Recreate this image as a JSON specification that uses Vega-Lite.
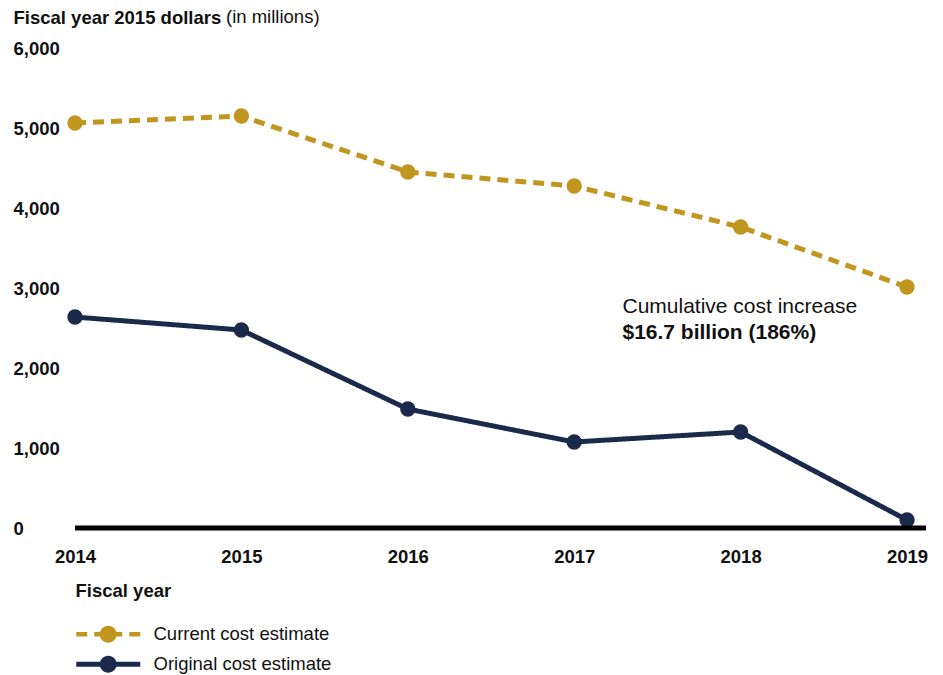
{
  "$schema": "https://vega.github.io/schema/vega-lite/v6.json",
  "width": 851,
  "height": 480,
  "autosize": {"type": "none"},
  "padding": {"left": 75, "top": 48, "right": 17, "bottom": 147},
  "background": "white",
  "config": {
    "view": {"stroke": null},
    "font": "Liberation Sans"
  },
  "title": {
    "text": "(in millions)",
    "anchor": "start",
    "frame": "group",
    "dx": 151,
    "dy": 22,
    "fontSize": 18.5,
    "fontWeight": "normal",
    "color": "#111111",
    "font": "Liberation Sans"
  },
  "datasets": {
    "costs": [
      {"year": 2014, "value": 5062, "series": "Current cost estimate"},
      {"year": 2015, "value": 5150, "series": "Current cost estimate"},
      {"year": 2016, "value": 4450, "series": "Current cost estimate"},
      {"year": 2017, "value": 4275, "series": "Current cost estimate"},
      {"year": 2018, "value": 3762, "series": "Current cost estimate"},
      {"year": 2019, "value": 3012, "series": "Current cost estimate"},
      {"year": 2014, "value": 2637, "series": "Original cost estimate"},
      {"year": 2015, "value": 2475, "series": "Original cost estimate"},
      {"year": 2016, "value": 1487, "series": "Original cost estimate"},
      {"year": 2017, "value": 1075, "series": "Original cost estimate"},
      {"year": 2018, "value": 1200, "series": "Original cost estimate"},
      {"year": 2019, "value": 100, "series": "Original cost estimate"}
    ],
    "notes": [
      {"year": 2017.29, "value": 2762, "label": "Cumulative cost increase", "weight": "normal"},
      {"year": 2017.29, "value": 2437, "label": "$16.7 billion (186%)", "weight": "bold"}
    ],
    "baseline": [
      {"value": 0}
    ]
  },
  "layer": [
    {
      "data": {"name": "costs"},
      "mark": {"type": "line", "strokeWidth": 5},
      "encoding": {
        "x": {
          "field": "year", "type": "quantitative",
          "scale": {"domain": [2014, 2019.114], "nice": false, "zero": false},
          "axis": {
            "values": [2014, 2015, 2016, 2017, 2018, 2019],
            "format": "d",
            "grid": false, "ticks": false, "domain": false,
            "labelFont": "Liberation Sans", "labelFontSize": 18.5, "labelFontWeight": "bold",
            "labelColor": "#111111", "labelBaseline": "middle", "labelPadding": 28,
            "labelFlush": false, "labelOverlap": false,
            "title": "Fiscal year",
            "titleFont": "Liberation Sans", "titleFontSize": 18.5, "titleFontWeight": "bold",
            "titleColor": "#111111", "titleAlign": "left", "titleAnchor": "start",
            "titleX": 0, "titleY": 62, "titleBaseline": "middle"
          }
        },
        "y": {
          "field": "value", "type": "quantitative",
          "scale": {"domain": [0, 6000], "nice": false},
          "axis": {
            "values": [0, 1000, 2000, 3000, 4000, 5000, 6000],
            "format": ",d",
            "grid": false, "ticks": false, "tickSize": 0, "domain": false,
            "labelFont": "Liberation Sans", "labelFontSize": 18.5, "labelFontWeight": "bold",
            "labelColor": "#111111", "labelAlign": "left", "labelBaseline": "middle",
            "labelPadding": 62, "labelFlush": false, "labelOverlap": false,
            "title": "Fiscal year 2015 dollars",
            "titleFont": "Liberation Sans", "titleFontSize": 18.5, "titleFontWeight": "bold",
            "titleColor": "#111111", "titleAngle": 0, "titleAlign": "left",
            "titleBaseline": "alphabetic", "titleX": -62, "titleY": -25
          }
        },
        "color": {
          "field": "series", "type": "nominal",
          "scale": {"range": ["#c1961f", "#1b2a4b"]},
          "legend": null
        },
        "strokeDash": {
          "field": "series", "type": "nominal",
          "scale": {"range": [[11, 7], [1, 0]]},
          "legend": null
        }
      }
    },
    {
      "data": {"name": "costs"},
      "mark": {"type": "point", "filled": true, "shape": "circle", "size": 235, "opacity": 1},
      "encoding": {
        "x": {"field": "year", "type": "quantitative"},
        "y": {"field": "value", "type": "quantitative"},
        "color": {"field": "series", "type": "nominal", "legend": null}
      }
    },
    {
      "data": {"name": "costs"},
      "mark": {"type": "point", "filled": true, "opacity": 0},
      "encoding": {
        "x": {"field": "year", "type": "quantitative"},
        "y": {"field": "value", "type": "quantitative"},
        "fill": {
          "field": "series", "type": "nominal",
          "scale": {"domain": ["Current cost estimate", "Original cost estimate"], "range": ["#c1961f", "#1b2a4b"]},
          "legend": {
            "title": null, "orient": "none", "legendX": 24, "legendY": 577,
            "symbolSize": 256, "symbolStrokeWidth": 0, "symbolOpacity": 1,
            "labelFont": "Liberation Sans", "labelFontSize": 18.5, "labelColor": "#111111",
            "labelOffset": 36, "rowPadding": 11, "padding": 0, "labelLimit": 400
          }
        },
        "shape": {
          "field": "series", "type": "nominal",
          "scale": {
            "domain": ["Current cost estimate", "Original cost estimate"],
            "range": [
              "M-4,-0.28H-2.625V0.28H-4Z M-1.75,-0.28H-0.9V0.28H-1.75Z M0.9,-0.28H1.75V0.28H0.9Z M2.625,-0.28H4V0.28H2.625Z M-1.06,0A1.06,1.06 0 1,1 1.06,0A1.06,1.06 0 1,1 -1.06,0Z",
              "M-4,-0.3H4V0.3H-4Z M-1.06,0A1.06,1.06 0 1,1 1.06,0A1.06,1.06 0 1,1 -1.06,0Z"
            ]
          },
          "legend": {
            "title": null, "orient": "none", "legendX": 24, "legendY": 577,
            "symbolSize": 256, "symbolStrokeWidth": 0, "symbolOpacity": 1,
            "labelFont": "Liberation Sans", "labelFontSize": 18.5, "labelColor": "#111111",
            "labelOffset": 36, "rowPadding": 11, "padding": 0, "labelLimit": 400
          }
        }
      }
    },
    {
      "data": {"name": "notes"},
      "transform": [{"filter": "datum.weight === 'normal'"}],
      "mark": {"type": "text", "align": "left", "baseline": "middle", "font": "Liberation Sans", "fontSize": 21, "fontWeight": "normal", "color": "#111111"},
      "encoding": {
        "x": {"field": "year", "type": "quantitative"},
        "y": {"field": "value", "type": "quantitative"},
        "text": {"field": "label"}
      }
    },
    {
      "data": {"name": "notes"},
      "transform": [{"filter": "datum.weight === 'bold'"}],
      "mark": {"type": "text", "align": "left", "baseline": "middle", "font": "Liberation Sans", "fontSize": 21, "fontWeight": "bold", "color": "#111111"},
      "encoding": {
        "x": {"field": "year", "type": "quantitative"},
        "y": {"field": "value", "type": "quantitative"},
        "text": {"field": "label"}
      }
    },
    {
      "data": {"name": "baseline"},
      "mark": {"type": "rule", "color": "#000000", "strokeWidth": 5},
      "encoding": {"y": {"field": "value", "type": "quantitative"}}
    }
  ]
}
